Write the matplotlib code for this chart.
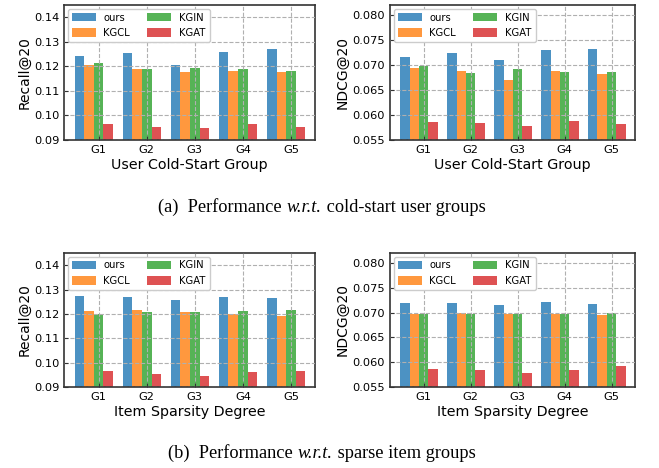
import numpy as np
import matplotlib
matplotlib.use("Agg")
import matplotlib.pyplot as plt

groups = ["G1", "G2", "G3", "G4", "G5"]
methods = ["ours", "KGCL", "KGIN", "KGAT"]
colors = ["tab:blue", "tab:orange", "tab:green", "tab:red"]

# user cold-start groups
user_recall = {
    "ours": [0.1243, 0.1255, 0.1206, 0.1259, 0.1271],
    "KGCL": [0.1206, 0.1188, 0.1178, 0.1182, 0.1178],
    "KGIN": [0.1214, 0.1188, 0.1194, 0.1188, 0.1182],
    "KGAT": [0.0965, 0.0953, 0.0949, 0.0965, 0.0953],
}
user_ndcg = {
    "ours": [0.0716, 0.0724, 0.0710, 0.0730, 0.0732],
    "KGCL": [0.0694, 0.0688, 0.0670, 0.0688, 0.0682],
    "KGIN": [0.0698, 0.0684, 0.0692, 0.0686, 0.0686],
    "KGAT": [0.0586, 0.0584, 0.0578, 0.0588, 0.0582],
}
# sparse item groups
item_recall = {
    "ours": [0.1273, 0.1269, 0.1257, 0.1269, 0.1265],
    "KGCL": [0.1212, 0.1216, 0.1208, 0.1200, 0.1192],
    "KGIN": [0.1200, 0.1208, 0.1208, 0.1212, 0.1216],
    "KGAT": [0.0967, 0.0954, 0.0946, 0.0963, 0.0967],
}
item_ndcg = {
    "ours": [0.0719, 0.0719, 0.0715, 0.0721, 0.0717],
    "KGCL": [0.0697, 0.0699, 0.0697, 0.0697, 0.0695],
    "KGIN": [0.0697, 0.0697, 0.0697, 0.0697, 0.0699],
    "KGAT": [0.0587, 0.0585, 0.0579, 0.0585, 0.0593],
}

recall_ylim = (0.09, 0.145)
recall_ticks = [0.09, 0.10, 0.11, 0.12, 0.13, 0.14]
ndcg_ylim = (0.055, 0.082)
ndcg_ticks = [0.055, 0.060, 0.065, 0.070, 0.075, 0.080]

caption_a = ["(a)  Performance ", "w.r.t.", " cold-start user groups"]
caption_b = ["(b)  Performance ", "w.r.t.", " sparse item groups"]

W, H = 659, 468
fig = plt.figure(figsize=(W / 100, H / 100), dpi=100)


def add_ax(x0, y0, x1, y1):
    # pixel box (top-left origin) -> figure fraction
    return fig.add_axes([x0 / W, 1 - y1 / H, (x1 - x0) / W, (y1 - y0) / H])


def draw(ax, data, ylabel, xlabel, ylim, yticks, fmt):
    x = np.arange(len(groups))
    w = 0.2
    for k, m in enumerate(methods):
        ax.bar(x + (k - 2) * w, data[m], w, color=colors[k], alpha=0.8,
               label=m, zorder=2)
    ax.set_xlim(-0.72, 4.5)
    ax.set_ylim(*ylim)
    ax.set_yticks(yticks)
    ax.set_yticklabels([fmt.format(v) for v in yticks])
    ax.set_xticks(x)
    ax.set_xticklabels(groups)
    ax.tick_params(direction="in", labelsize=8.2, length=3, color="#333333")
    ax.grid(True, linestyle="--", color="#b0b0b0", linewidth=0.8, zorder=3)
    ax.set_axisbelow(False)
    for s in ax.spines.values():
        s.set_color("#333333")
        s.set_linewidth(1.2)
    ax.set_ylabel(ylabel, fontsize=10, labelpad=2)
    ax.set_xlabel(xlabel, fontsize=10.3, labelpad=2)
    leg = ax.legend(ncol=2, loc="upper left", fontsize=7.2, handlelength=2.4,
                    handleheight=0.9, columnspacing=1.7, handletextpad=0.8,
                    labelspacing=0.55, borderaxespad=0.35, framealpha=1)
    leg.get_frame().set_zorder(5)


ax1 = add_ax(64, 5, 315, 140)
draw(ax1, user_recall, "Recall@20", "User Cold-Start Group",
     recall_ylim, recall_ticks, "{:.2f}")
ax2 = add_ax(390, 5, 635, 140)
draw(ax2, user_ndcg, "NDCG@20", "User Cold-Start Group",
     ndcg_ylim, ndcg_ticks, "{:.3f}")
ax3 = add_ax(64, 253, 315, 387)
draw(ax3, item_recall, "Recall@20", "Item Sparsity Degree",
     recall_ylim, recall_ticks, "{:.2f}")
ax4 = add_ax(390, 253, 635, 387)
draw(ax4, item_ndcg, "NDCG@20", "Item Sparsity Degree",
     ndcg_ylim, ndcg_ticks, "{:.3f}")


def caption(parts, xc, yc, size=13.2):
    # lay out plain / italic / plain pieces side by side, centred at xc
    renderer = fig.canvas.get_renderer()
    texts = []
    for i, p in enumerate(parts):
        t = fig.text(0, 1 - yc / H, p, va="center", ha="left", fontsize=size,
                     family="Liberation Serif",
                     style="italic" if i == 1 else "normal")
        texts.append(t)
    widths = [t.get_window_extent(renderer).width for t in texts]
    x = xc - sum(widths) / 2
    for t, wd in zip(texts, widths):
        t.set_x(x / W)
        x += wd


caption(caption_a, 322, 207)
caption(caption_b, 322, 453)

fig.savefig("out.png", dpi=100)
